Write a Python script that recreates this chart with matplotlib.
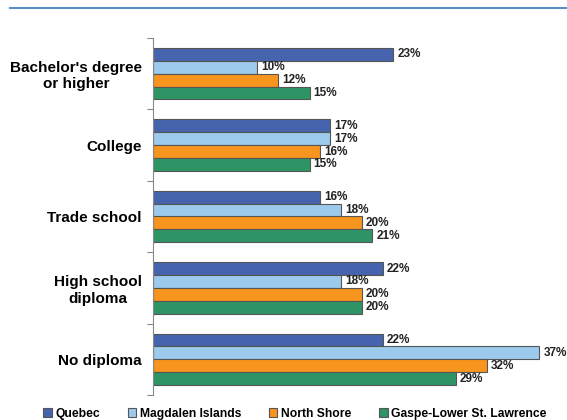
import matplotlib.pyplot as plt
import numpy as np
from matplotlib.lines import Line2D

plt.rcParams['font.family'] = ['Liberation Sans', 'DejaVu Sans']

categories = ["Bachelor's degree\nor higher", "College", "Trade school",
              "High school\ndiploma", "No diploma"]
regions = ["Quebec", "Magdalen Islands", "North Shore", "Gaspe-Lower St. Lawrence"]
quebec = [23, 17, 16, 22, 22]
magdalen = [10, 17, 18, 18, 37]
north_shore = [12, 16, 20, 20, 32]
gaspe = [15, 15, 21, 20, 29]
colors = ['#4664ad', '#9ccaec', '#f7951e', '#2e9466']

series = [quebec, magdalen, north_shore, gaspe]

fig = plt.figure(figsize=(5.67, 4.2), dpi=100)
ax = fig.add_axes([153/567, 1 - 395/420, 407/567, 357/420])

y = np.arange(len(categories))
h = 0.18
for k, (vals, col) in enumerate(zip(series, colors)):
    pos = y - 1.5*h + k*h
    ax.barh(pos, vals, height=h, color=col, edgecolor='#555555', linewidth=0.8)
    for p, v in zip(pos, vals):
        ax.text(v + 0.4, p, f"{v}%", va='center', ha='left',
                fontsize=8.5, fontweight='bold', color='#222222')

ax.set_xlim(0, 39)
ax.set_ylim(len(categories) - 0.5, -0.5)
ax.set_xticks([])
ax.set_yticks(np.arange(-0.5, len(categories)), minor=False)
ax.set_yticklabels([])
ax.set_yticks(y, minor=True)
ax.set_yticklabels(categories, minor=True, fontsize=11, fontweight='bold',
                   multialignment='center')
ax.tick_params(axis='y', which='minor', length=0, pad=8)
ax.tick_params(axis='y', which='major', length=4, color='#888888')
for s in ['top', 'right', 'bottom']:
    ax.spines[s].set_visible(False)
ax.spines['left'].set_color('#888888')

# rule across the top of the page
fig.add_artist(Line2D([10/567, 1], [1 - 8/420, 1 - 8/420],
                      transform=fig.transFigure, color='#5b8fc7', lw=1.5))

handles = [plt.Rectangle((0, 0), 1, 1, facecolor=c, edgecolor='#555555', lw=0.8)
           for c in colors]
fig.legend(handles, regions, loc='lower center', bbox_to_anchor=(0.52, -0.025),
           ncol=4, frameon=False, handlelength=0.7, handleheight=0.7,
           handletextpad=0.3, columnspacing=2.3,
           prop={'weight': 'bold', 'size': 8.7})

fig.savefig('out.png', dpi=100)
